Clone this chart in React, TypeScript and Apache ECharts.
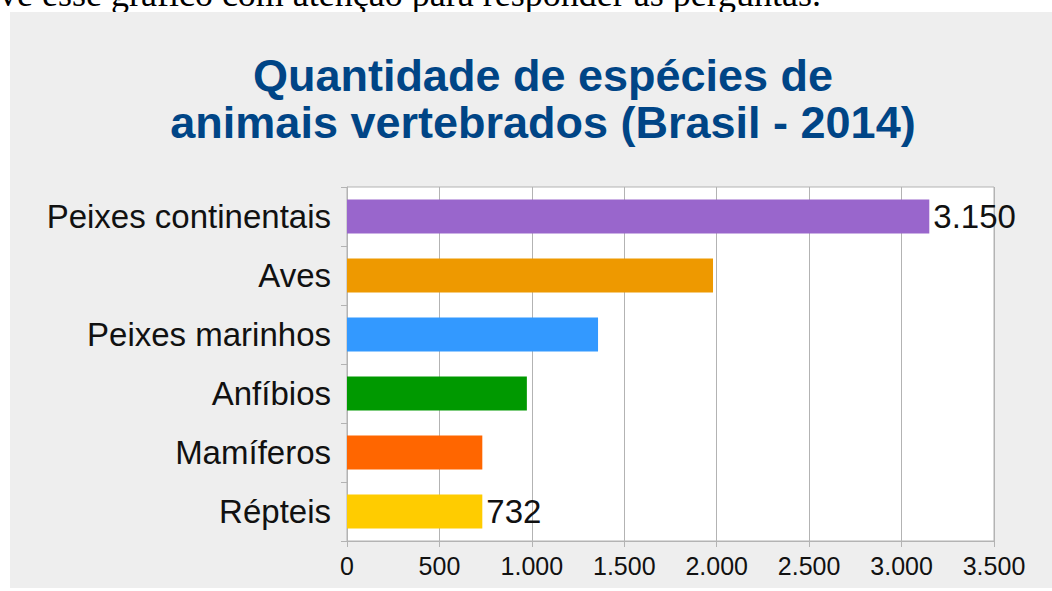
import React, { useEffect, useRef } from "react";
import * as echarts from "echarts";

const categories = ["Peixes continentais", "Aves", "Peixes marinhos", "Anfíbios", "Mamíferos", "Répteis"];
const values = [3150, 1980, 1358, 973, 732, 732];
const barColors = ["#9966cc", "#ee9900", "#3399ff", "#009900", "#ff6600", "#ffcc00"];
const labeledCategories = ["Peixes continentais", "Répteis"];
const xMin = 0;
const xMax = 3500;
const xInterval = 500;
const titleLines = ["Quantidade de espécies de", "animais vertebrados (Brasil - 2014)"];
const headerText = "ve esse gráfico com atenção para responder às perguntas.";

const fmt = (v: number) => String(v).replace(/\B(?=(\d{3})+(?!\d))/g, ".");

export default function App() {
  const ref = useRef<HTMLDivElement>(null);
  useEffect(() => {
    if (!ref.current) return;
    const chart = echarts.init(ref.current, undefined, { renderer: "svg" });
    const font = "'Liberation Sans', Arial, sans-serif";
    chart.setOption({
      animation: false,
      backgroundColor: "#eeeeee",
      title: {
        text: titleLines.join("\n"),
        left: 528,
        top: 35,
        textAlign: "center",
        textStyle: {
          fontFamily: font,
          fontWeight: "bold",
          fontSize: 45,
          lineHeight: 47,
          color: "#004586",
        },
      },
      grid: {
        left: 337,
        top: 175,
        width: 647,
        height: 354,
        show: true,
        backgroundColor: "#ffffff",
        borderColor: "#b3b3b3",
        borderWidth: 1,
      },
      xAxis: {
        type: "value",
        min: xMin,
        max: xMax,
        interval: xInterval,
        axisLine: { show: true, lineStyle: { color: "#b3b3b3", width: 1 } },
        axisTick: { show: true, length: 6, lineStyle: { color: "#b3b3b3" } },
        splitLine: { show: true, lineStyle: { color: "#b3b3b3", width: 1 } },
        axisLabel: {
          fontFamily: font,
          fontSize: 25,
          color: "#111111",
          margin: 12,
          formatter: (v: number) => fmt(v),
        },
      },
      yAxis: {
        type: "category",
        inverse: true,
        data: categories,
        axisLine: { show: true, lineStyle: { color: "#b3b3b3", width: 1 } },
        axisTick: { show: true, length: 6, lineStyle: { color: "#b3b3b3" } },
        splitLine: { show: false },
        axisLabel: {
          fontFamily: font,
          fontSize: 33,
          color: "#111111",
          margin: 16,
        },
      },
      series: [
        {
          type: "bar",
          barWidth: 34,
          data: values.map((v, i) => ({
            value: v,
            itemStyle: { color: barColors[i] },
            label: {
              show: labeledCategories.includes(categories[i]),
              position: "right",
              distance: 4,
              fontFamily: font,
              fontSize: 33,
              color: "#111111",
              formatter: (p: any) => fmt(p.value),
            },
          })),
        },
      ],
    });
    return () => chart.dispose();
  }, []);

  return (
    <div style={{ position: "fixed", left: 0, top: 0, width: 1052, height: 591, background: "#ffffff", overflow: "hidden" }}>
      <div
        style={{
          position: "absolute",
          left: -1,
          top: -24,
          fontFamily: "'Liberation Serif', 'Times New Roman', serif",
          fontSize: 36,
          lineHeight: "36px",
          whiteSpace: "nowrap",
          color: "#000",
        }}
      >
        {headerText}
      </div>
      <div ref={ref} style={{ position: "absolute", left: 10, top: 12, width: 1042, height: 576 }} />
    </div>
  );
}
